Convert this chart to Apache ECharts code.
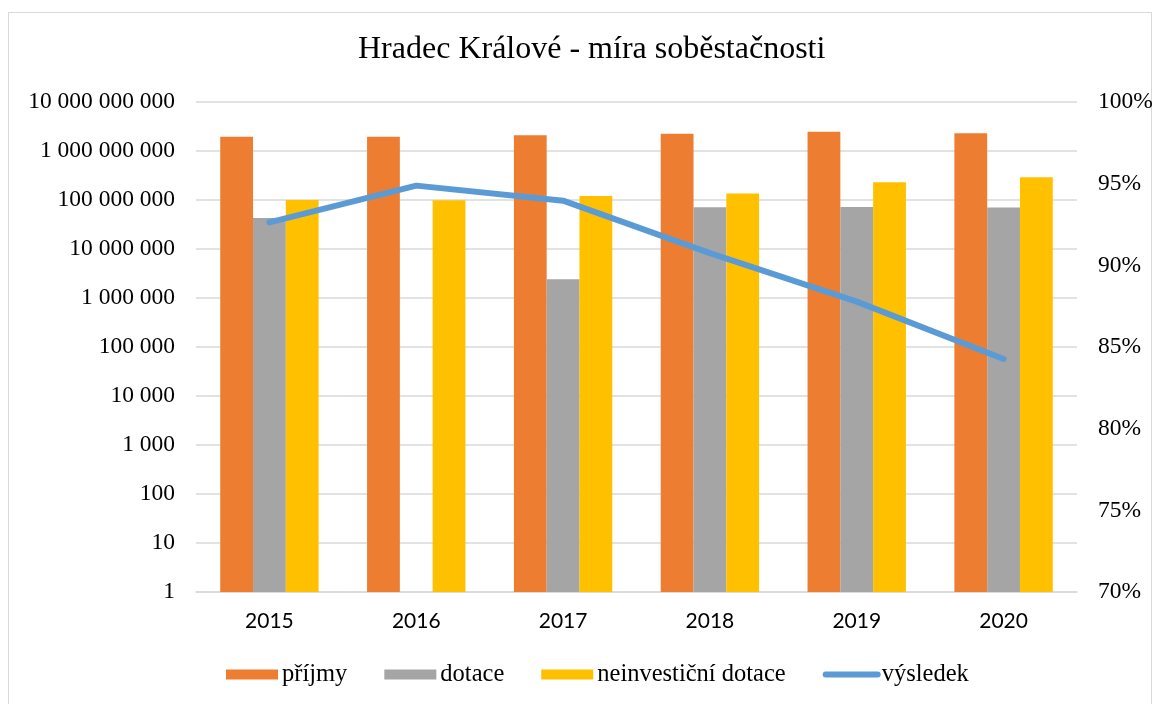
<!DOCTYPE html>
<html>
<head>
<meta charset="utf-8">
<script src="https://cdn.jsdelivr.net/npm/echarts@6/dist/echarts.min.js"></script>
<style>
  html, body { margin: 0; padding: 0; background: #fff; }
  #frame { position: absolute; left: 8px; top: 12px; width: 1142px; height: 700px; border: 1px solid #d9d9d9; }
  #chart { position: absolute; left: 0; top: 0; width: 1160px; height: 704px; }
</style>
</head>
<body>
<div id="frame"></div>
<div id="chart"></div>
<script>
// data
var roky = ['2015', '2016', '2017', '2018', '2019', '2020'];
var prijmy = [1.96e9, 1.96e9, 2.09e9, 2.26e9, 2.48e9, 2.3e9];
var dotace = [4.3e7, null, 2.4e6, 7.1e7, 7.2e7, 7.0e7];
var neinvesticni = [1.0e8, 0.99e8, 1.21e8, 1.35e8, 2.3e8, 2.9e8];
var vysledek = [0.9263, 0.9488, 0.9396, 0.9075, 0.8778, 0.8427];

var serif = '"Liberation Serif", "Times New Roman", serif';

function mezery(v) {
  return String(Math.round(v)).replace(/\B(?=(\d{3})+(?!\d))/g, ' ');
}

var myChart = echarts.init(document.getElementById('chart'));
myChart.setOption({
  animation: false,
  title: {
    text: 'Hradec Králové - míra soběstačnosti',
    left: 353,
    top: 29,
    textStyle: { fontFamily: serif, fontSize: 32, fontWeight: 'normal', color: '#000' }
  },
  legend: {
    bottom: 12,
    left: 221,
    itemWidth: 52,
    itemHeight: 10,
    itemGap: 37,
    textStyle: { fontFamily: serif, fontSize: 24.5, color: '#000', padding: [0, 0, 0, -1] },
    data: [
      { name: 'příjmy', icon: 'rect' },
      { name: 'dotace', icon: 'rect' },
      { name: 'neinvestiční dotace', icon: 'rect' },
      { name: 'výsledek', itemStyle: { opacity: 0 }, lineStyle: { width: 6, cap: 'round' } }
    ]
  },
  grid: { left: 196, right: 83, top: 102, bottom: 112 },
  xAxis: {
    type: 'category',
    data: roky,
    axisLine: { lineStyle: { color: '#d9d9d9', width: 1.5 } },
    axisTick: { show: false },
    axisLabel: { fontFamily: 'Lato, "Noto Sans", sans-serif', fontSize: 21, color: '#000', margin: 19 }
  },
  yAxis: [{
    type: 'log',
    logBase: 10,
    min: 1,
    max: 1e10,
    interval: 1,
    axisLine: { show: false },
    axisTick: { show: false },
    splitLine: { lineStyle: { color: '#d9d9d9', width: 1.5 } },
    axisLabel: {
      fontFamily: serif, fontSize: 23.5, color: '#000', margin: 21,
      formatter: function (v) { return mezery(v); }
    }
  }, {
    type: 'value',
    min: 0.7,
    max: 1,
    interval: 0.05,
    axisLine: { show: false },
    axisTick: { show: false },
    splitLine: { show: false },
    axisLabel: {
      fontFamily: serif, fontSize: 23.5, color: '#000', margin: 21,
      formatter: function (v) { return Math.round(v * 100) + '%'; }
    }
  }],
  series: [{
    name: 'příjmy',
    type: 'bar',
    data: prijmy,
    barGap: '0%',
    barCategoryGap: '33%',
    itemStyle: { color: '#ED7D31' }
  }, {
    name: 'dotace',
    type: 'bar',
    data: dotace,
    itemStyle: { color: '#A5A5A5' }
  }, {
    name: 'neinvestiční dotace',
    type: 'bar',
    data: neinvesticni,
    itemStyle: { color: '#FFC000' }
  }, {
    name: 'výsledek',
    type: 'line',
    yAxisIndex: 1,
    data: vysledek,
    symbol: 'none',
    lineStyle: { color: '#5B9BD5', width: 6, cap: 'round', join: 'round' },
    itemStyle: { color: '#5B9BD5' }
  }]
});
</script>
</body>
</html>
